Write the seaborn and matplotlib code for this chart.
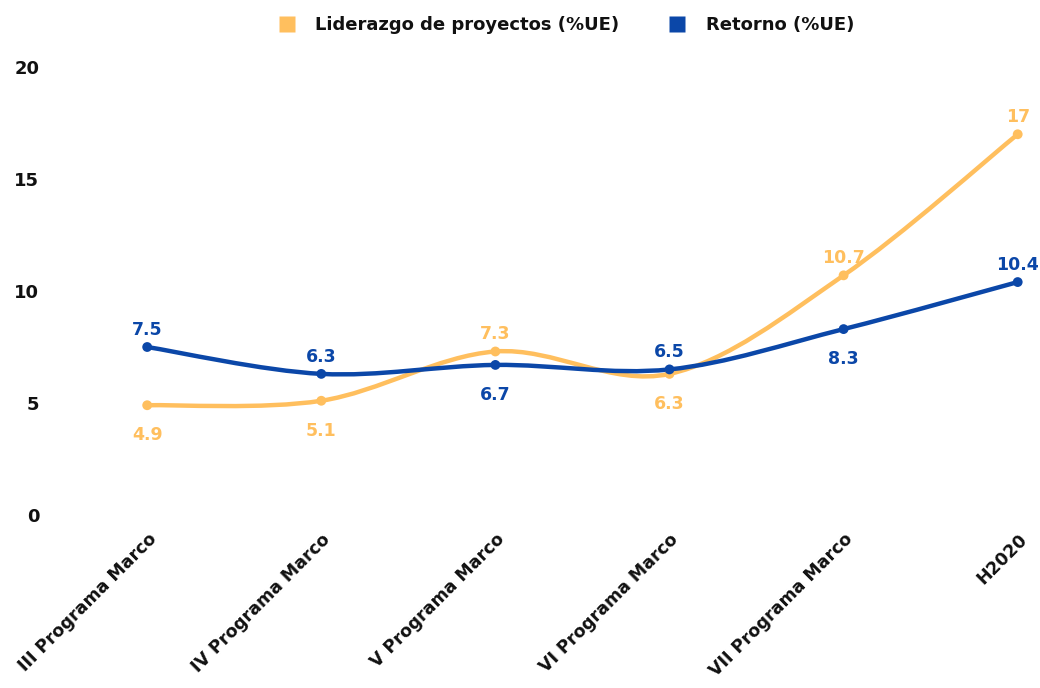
import matplotlib
matplotlib.use("Agg")
import matplotlib.pyplot as plt
import numpy as np
import pandas as pd
import seaborn as sns
from matplotlib.path import Path
from matplotlib.patches import PathPatch
from matplotlib.lines import Line2D

categories = ["III Programa Marco", "IV Programa Marco", "V Programa Marco",
              "VI Programa Marco", "VII Programa Marco", "H2020"]
liderazgo = [4.9, 5.1, 7.3, 6.3, 10.7, 17]
retorno = [7.5, 6.3, 6.7, 6.5, 8.3, 10.4]
# label placement: +1 above the point, -1 below
liderazgo_pos = [-1, -1, 1, -1, 1, 1]
retorno_pos = [1, 1, -1, 1, -1, 1]

ORANGE = "#FFBF5E"
BLUE = "#0B47A8"
TEXT = "#111111"

sns.set_theme(style="white")
plt.rcParams["font.family"] = ["DejaVu Sans"]
plt.rcParams["font.weight"] = "bold"

fig = plt.figure(figsize=(10.4, 6.88), dpi=100)
ax = fig.add_axes([0.0913, 0.2515, 0.904, 0.651])


def smooth_path(xs, ys):
    # Catmull-Rom spline expressed as cubic Bezier segments
    pts = np.column_stack([xs, ys]).astype(float)
    n = len(pts)
    verts = [pts[0]]
    codes = [Path.MOVETO]
    for i in range(n - 1):
        p0 = pts[i - 1] if i > 0 else pts[i]
        p1 = pts[i]
        p2 = pts[i + 1]
        p3 = pts[i + 2] if i + 2 < n else pts[i + 1]
        c1 = p1 + (p2 - p0) / 6
        c2 = p2 - (p3 - p1) / 6
        verts += [c1, c2, p2]
        codes += [Path.CURVE4] * 3
    return Path(verts, codes)


x = np.arange(len(categories))
df = pd.DataFrame({
    "x": np.concatenate([x, x]),
    "value": liderazgo + retorno,
    "serie": ["Liderazgo de proyectos (%UE)"] * len(x) + ["Retorno (%UE)"] * len(x),
})

for vals, color in [(liderazgo, ORANGE), (retorno, BLUE)]:
    ax.add_patch(PathPatch(smooth_path(x, vals), facecolor="none",
                           edgecolor=color, lw=3.2, capstyle="round", zorder=2))

sns.scatterplot(data=df, x="x", y="value", hue="serie",
                palette=[ORANGE, BLUE], s=50, edgecolor="none",
                legend=False, ax=ax, zorder=3)

for vals, pos, color in [(liderazgo, liderazgo_pos, ORANGE),
                         (retorno, retorno_pos, BLUE)]:
    for xi, v, p in zip(x, vals, pos):
        ax.annotate(f"{v:g}", (xi, v), xytext=(0, 6 if p > 0 else -15),
                    textcoords="offset points", ha="center",
                    va="bottom" if p > 0 else "top",
                    color=color, fontsize=12.5, fontweight="bold")

ax.set_xlim(-0.3, 5.1)
ax.set_ylim(0, 20)
ax.set_yticks([0, 5, 10, 15, 20])
ax.set_xticks(x)
ax.set_xticklabels(categories, rotation=45, ha="right", rotation_mode="anchor",
                   fontsize=12.5, fontweight="bold", color=TEXT)
ax.tick_params(axis="y", pad=34, labelsize=13, labelcolor=TEXT)
ax.tick_params(axis="x", pad=5)
for lab in ax.get_yticklabels():
    lab.set_fontweight("bold")
ax.set_xlabel("")
ax.set_ylabel("")
sns.despine(ax=ax, left=True, bottom=True)

handles = [Line2D([], [], marker="s", color="none", markerfacecolor=ORANGE,
                  markeredgecolor="none", markersize=11),
           Line2D([], [], marker="s", color="none", markerfacecolor=BLUE,
                  markeredgecolor="none", markersize=11)]
leg = fig.legend(handles, ["Liderazgo de proyectos (%UE)", "Retorno (%UE)"],
                 loc="upper center", bbox_to_anchor=(0.54, 1.0), ncol=2,
                 frameon=False, handletextpad=0.6, columnspacing=2.2,
                 prop={"weight": "bold", "size": 13})
for t in leg.get_texts():
    t.set_color(TEXT)

fig.savefig("out.png", dpi=100)
